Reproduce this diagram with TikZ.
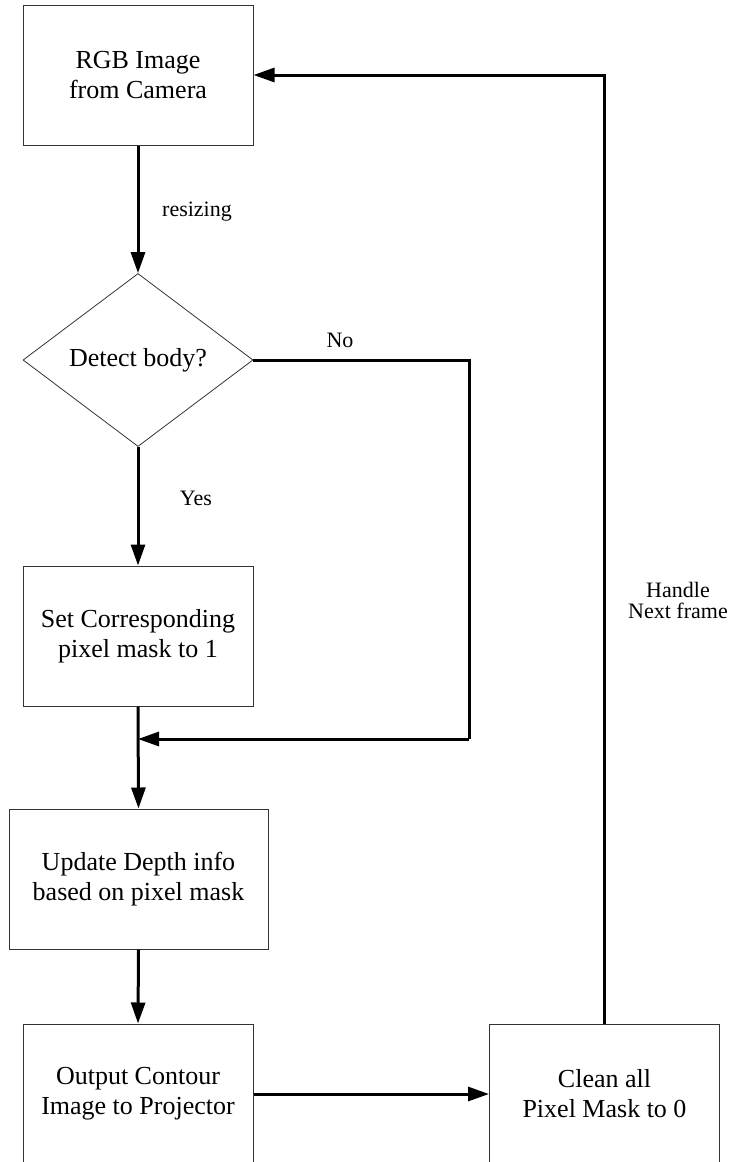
\documentclass[tikz,border=0pt]{standalone}
\usepackage{fontspec}
\setmainfont{Liberation Serif}
\usetikzlibrary{shapes.geometric, arrows.meta}

\tikzset{
    procbox/.style={draw=black!80, line width=1pt, minimum width=230pt, minimum height=140pt,
        align=center, inner sep=0pt, font=\fontsize{26}{30}\selectfont},
    decision/.style={diamond, draw=black!80, line width=0.8pt, minimum width=230pt, minimum height=173pt,
        align=center, inner sep=0pt, font=\fontsize{26}{30}\selectfont},
    flow/.style={line width=3pt, -{Triangle[length=21pt, width=14pt]}},
    plainline/.style={line width=3pt},
    lbl/.style={align=center, inner sep=0pt, font=\fontsize{22}{21}\selectfont}
}

\begin{document}
\begin{tikzpicture}[x=1pt, y=-1pt]
    \useasboundingbox (0,0) rectangle (732,1162);
    \clip (0,0) rectangle (732,1162);

    % boxes
    \node[procbox] (rgb) at (138,75) {RGB Image\\from Camera};
    \node[decision] (det) at (138,360) {Detect body?};
    \node[procbox] (setm) at (138,636) {Set Corresponding\\pixel mask to 1};
    \node[procbox, minimum width=259pt] (upd) at (138.5,879) {Update Depth info\\based on pixel mask};
    \node[procbox] (outp) at (138,1094) {Output Contour\\Image to Projector};
    \node[procbox] (clean) at (604.5,1094) {Clean all\\Pixel Mask to 0};

    \coordinate (noc) at (469,739);
    \coordinate (join) at (138,739);

    % connectors
    \draw[flow] (rgb.south) -- (det.north);
    \draw[flow] (det.south) -- (setm.north);
    \draw[plainline] (det.east) -| (noc);
    \draw[flow] (noc) -- (join);
    \draw[flow] (setm.south) -- (upd.north);
    \draw[flow] (upd.south) -- (outp.north);
    \draw[flow] (outp.east) -- (clean.west);
    \draw[flow] (clean.north) |- (rgb.east);

    % labels
    \node[lbl] (lresize) at (197,212) {resizing};
    \node[lbl] (lyes) at (196,498) {Yes};
    \node[lbl] (lno) at (340,340) {No};
    \node[lbl] (lnext) at (678,600) {Handle\\Next frame};
\end{tikzpicture}
\end{document}
